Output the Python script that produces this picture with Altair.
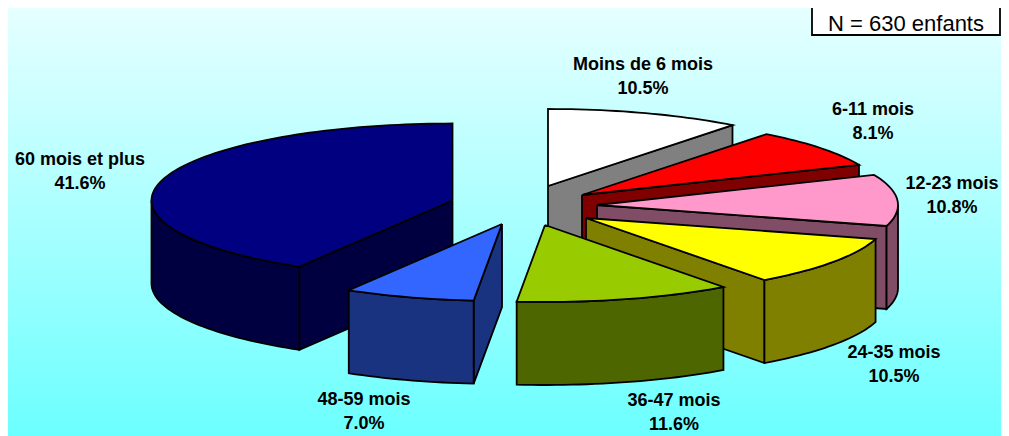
import math
import altair as alt
import pandas as pd

# Chart values
categories = ["Moins de 6 mois", "6-11 mois", "12-23 mois", "24-35 mois",
              "36-47 mois", "48-59 mois", "60 mois et plus"]
percent = [10.5, 8.1, 10.8, 10.5, 11.6, 7.0, 41.6]
percent_labels = ["10.5%", "8.1%", "10.8%", "10.5%", "11.6%", "7.0%", "41.6%"]
note = "N = 630 enfants"

# Styles
top_colors = ["#FFFFFF", "#FF0000", "#FF99CC", "#FFFF00", "#99CC00", "#3366FF", "#000080"]
wall_colors = ["#808080", "#800000", "#804C66", "#808000", "#4D6600", "#1A3380", "#000040"]

# Layout: slice apex after explosion, label centres, pie shape (pixels)
apex_x = [548, 582, 597, 586, 545, 502, 452.5]
apex_y = [186, 195, 205, 218, 225, 224, 200.5]
label_x = [643, 873, 952, 894, 674, 364, 80]
label_y = [65, 110, 184, 353, 401, 400, 160]
line_gap = 24
RX, RY, DEPTH = 301, 77, 83
paint_order = [0, 1, 2, 3, 6, 5, 4]


def arc(cx, cy, a0, a1, dy=0.0):
    n = max(2, int(abs(a1 - a0) / 1.5) + 1)
    pts = []
    for k in range(n + 1):
        t = math.radians(a0 + (a1 - a0) * k / n)
        pts.append((cx + RX * math.sin(t), cy - RY * math.cos(t) + dy))
    return pts


rows = []


def add(pid, pts, color):
    pts = list(pts) + [pts[0]]
    for i, (x, y) in enumerate(pts):
        rows.append({"poly": pid, "i": i, "x": x, "y": y, "color": color})


edges = [0.0]
for p in percent:
    edges.append(edges[-1] + p * 3.6)

pid = 0
for s in paint_order:
    a0, a1 = edges[s], min(edges[s + 1], 360.0)
    cx, cy = apex_x[s], apex_y[s]
    # radial faces
    if math.sin(math.radians(a0)) < 0:
        e = arc(cx, cy, a0, a0 + 0.001)[0]
        add(pid, [(cx, cy), e, (e[0], e[1] + DEPTH), (cx, cy + DEPTH)], wall_colors[s]); pid += 1
    if math.sin(math.radians(a1)) > 0.0:
        e = arc(cx, cy, a1, a1 + 0.001)[0]
        add(pid, [(cx, cy), e, (e[0], e[1] + DEPTH), (cx, cy + DEPTH)], wall_colors[s]); pid += 1
    # outer wall: front half only
    f0, f1 = max(a0, 90.0), min(a1, 270.0)
    if f1 > f0:
        upper = arc(cx, cy, f0, f1)
        lower = arc(cx, cy, f1, f0, DEPTH)
        add(pid, upper + lower, wall_colors[s]); pid += 1
    # top
    add(pid, [(cx, cy)] + arc(cx, cy, a0, a1), top_colors[s]); pid += 1

polys = pd.DataFrame(rows)

W, H = 993, 428
x_scale = alt.Scale(domain=[8, 8 + W], range=[0, W], nice=False, zero=False)
y_scale = alt.Scale(domain=[8, 8 + H], range=[0, H], nice=False, zero=False)
X = alt.X("x:Q", scale=x_scale, axis=None)
Y = alt.Y("y:Q", scale=y_scale, axis=None)

one = pd.DataFrame({"a": [0]})
background = alt.Chart(one).mark_rect(
    fill=alt.Gradient(gradient="linear", x1=0, x2=0, y1=0, y2=1,
                      stops=[alt.GradientStop(offset=0, color="#E6FFFF"),
                             alt.GradientStop(offset=1, color="#6CFFFF")])
).encode(x=alt.value(0), x2=alt.value(W), y=alt.value(0), y2=alt.value(H))

pie = alt.Chart(polys).mark_line(stroke="black", strokeWidth=1.8, strokeJoin="miter", interpolate="linear").encode(
    x=X, y=Y, detail="poly:N", order="i:Q",
    fill=alt.Fill("color:N", scale=None),
)

labels = pd.DataFrame({
    "x": label_x * 2,
    "y": label_y + [v + line_gap for v in label_y],
    "t": categories + percent_labels,
})
text = alt.Chart(labels).mark_text(font="Liberation Sans", fontSize=18, fontWeight="bold", color="black",
                                   align="center", baseline="middle").encode(x=X, y=Y, text="t:N")

box_df = pd.DataFrame({"x": [812], "x2": [1000], "y": [6], "y2": [35]})
box = alt.Chart(box_df).mark_rect(fill="white", stroke="black", strokeWidth=1.8).encode(
    x=X, x2="x2:Q", y=Y, y2="y2:Q")
note_df = pd.DataFrame({"x": [906], "y": [24], "t": [note]})
note_text = alt.Chart(note_df).mark_text(font="Liberation Sans", fontSize=22, color="black",
                                         align="center", baseline="middle").encode(x=X, y=Y, text="t:N")

chart = alt.layer(background, pie, text, box, note_text).properties(
    width=W, height=H, padding=0, autosize=alt.AutoSizeParams(type="none"),
).configure_view(stroke=None)

chart.save("out.html", embed_options={"renderer": "svg", "actions": False})
